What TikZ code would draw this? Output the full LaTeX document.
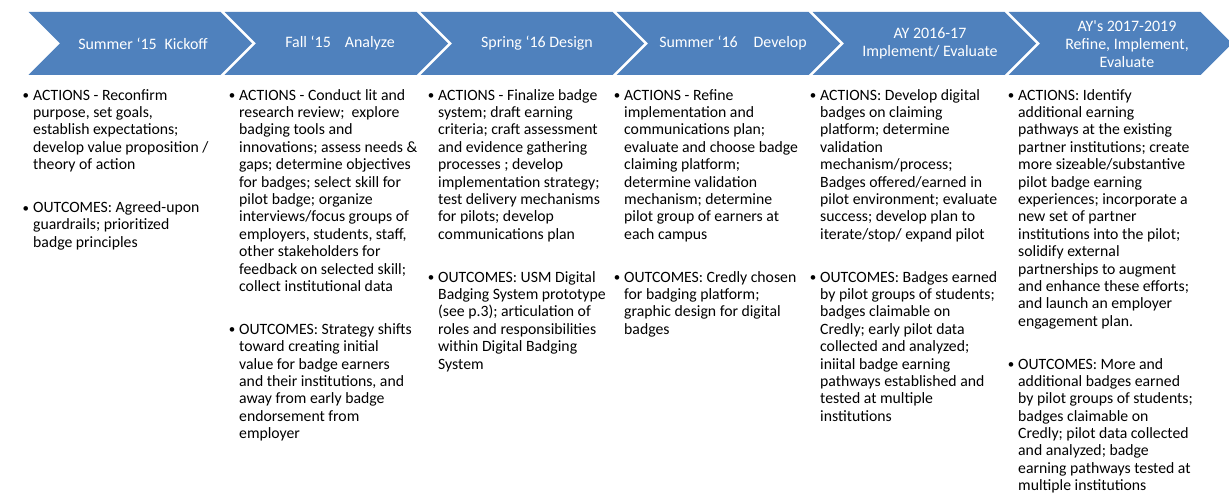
\documentclass[tikz,border=0pt]{standalone}
\usepackage{fontspec}
\newfontfamily\calfont{Carlito}
\definecolor{chevblue}{HTML}{4F81BD}
\tikzset{
  chevron/.style={fill=chevblue, draw=none},
  phase/.style={text=white, align=center, inner sep=0pt,
    font=\calfont\fontsize{16}{17.8}\selectfont},
  column/.style={anchor=north west, align=left, inner sep=0pt,
    font=\calfont\fontsize{15.8}{17.45}\selectfont},
}
% bullet hung to the left of an item's first line
\newcommand\itembullet{\llap{\raisebox{0.5bp}{\fontsize{13}{13}\selectfont •}\hspace{4bp}}}
% extra space between the ACTIONS and OUTCOMES items
\newcommand\itemgap{\\[25.5bp]}
\begin{document}
\begin{tikzpicture}[x=1bp,y=-1bp]
\useasboundingbox (0,0) rectangle (1229,493);
\clip (0,0) rectangle (1229,493);

% phase chevrons, notch at 60 + 196 i
\foreach \i in {0,...,5} {
  \pgfmathsetmacro\n{60+196*\i}
  \fill[chevron] (\n-31.5,12) -- (\n+160.5,12) -- (\n+192,43.5)
    -- (\n+160.5,75) -- (\n-31.5,75) -- (\n,43.5) -- cycle;
}

% phase titles
\node[phase] (h1) at (143,43.5) {Summer ‘15\hspace{8bp}Kickoff};
\node[phase] (h2) at (340,43.5) {Fall ‘15\hspace{14bp}Analyze};
\node[phase] (h3) at (537,43.5) {Spring ‘16 Design};
\node[phase] (h4) at (733,43.5) {Summer ‘16\hspace{16bp}Develop};
\node[phase] (h5) at (930,43.5) {AY 2016-17\\Implement/ Evaluate};
\node[phase] (h6) at (1127,44) {AY's 2017-2019\\Refine, Implement,\\Evaluate};

% actions and outcomes for each phase
\node[column] (c1) at (33,87.8) {\strut\itembullet ACTIONS - Reconfirm\\
purpose, set goals,\\
establish expectations;\\
develop value proposition /\\
theory of action\itemgap
\itembullet OUTCOMES: Agreed-upon\\
guardrails; prioritized\\
badge principles};

\node[column] (c2) at (239,87.8) {\strut\itembullet ACTIONS - Conduct lit and\\
research review;\ \ explore\\
badging tools and\\
innovations; assess needs \&\\
gaps; determine objectives\\
for badges; select skill for\\
pilot badge; organize\\
interviews/focus groups of\\
employers, students, staff,\\
other stakeholders for\\
feedback on selected skill;\\
collect institutional data\itemgap
\itembullet OUTCOMES: Strategy shifts\\
toward creating initial\\
value for badge earners\\
and their institutions, and\\
away from early badge\\
endorsement from\\
employer};

\node[column] (c3) at (438,87.8) {\strut\itembullet ACTIONS - Finalize badge\\
system; draft earning\\
criteria; craft assessment\\
and evidence gathering\\
processes ; develop\\
implementation strategy;\\
test delivery mechanisms\\
for pilots; develop\\
communications plan\itemgap
\itembullet OUTCOMES: USM Digital\\
Badging System prototype\\
(see p.3); articulation of\\
roles and responsibilities\\
within Digital Badging\\
System};

\node[column] (c4) at (624,87.8) {\strut\itembullet ACTIONS - Refine\\
implementation and\\
communications plan;\\
evaluate and choose badge\\
claiming platform;\\
determine validation\\
mechanism; determine\\
pilot group of earners at\\
each campus\itemgap
\itembullet OUTCOMES: Credly chosen\\
for badging platform;\\
graphic design for digital\\
badges};

\node[column] (c5) at (820,87.8) {\strut\itembullet ACTIONS: Develop digital\\
badges on claiming\\
platform; determine\\
validation\\
mechanism/process;\\
Badges offered/earned in\\
pilot environment; evaluate\\
success; develop plan to\\
iterate/stop/ expand pilot\itemgap
\itembullet OUTCOMES: Badges earned\\
by pilot groups of students;\\
badges claimable on\\
Credly; early pilot data\\
collected and analyzed;\\
iniital badge earning\\
pathways established and\\
tested at multiple\\
institutions};

\node[column] (c6) at (1018,87.8) {\strut\itembullet ACTIONS: Identify\\
additional earning\\
pathways at the existing\\
partner institutions; create\\
more sizeable/substantive\\
pilot badge earning\\
experiences; incorporate a\\
new set of partner\\
institutions into the pilot;\\
solidify external\\
partnerships to augment\\
and enhance these efforts;\\
and launch an employer\\
engagement plan.\itemgap
\itembullet OUTCOMES: More and\\
additional badges earned\\
by pilot groups of students;\\
badges claimable on\\
Credly; pilot data collected\\
and analyzed; badge\\
earning pathways tested at\\
multiple institutions};
\end{tikzpicture}
\end{document}
